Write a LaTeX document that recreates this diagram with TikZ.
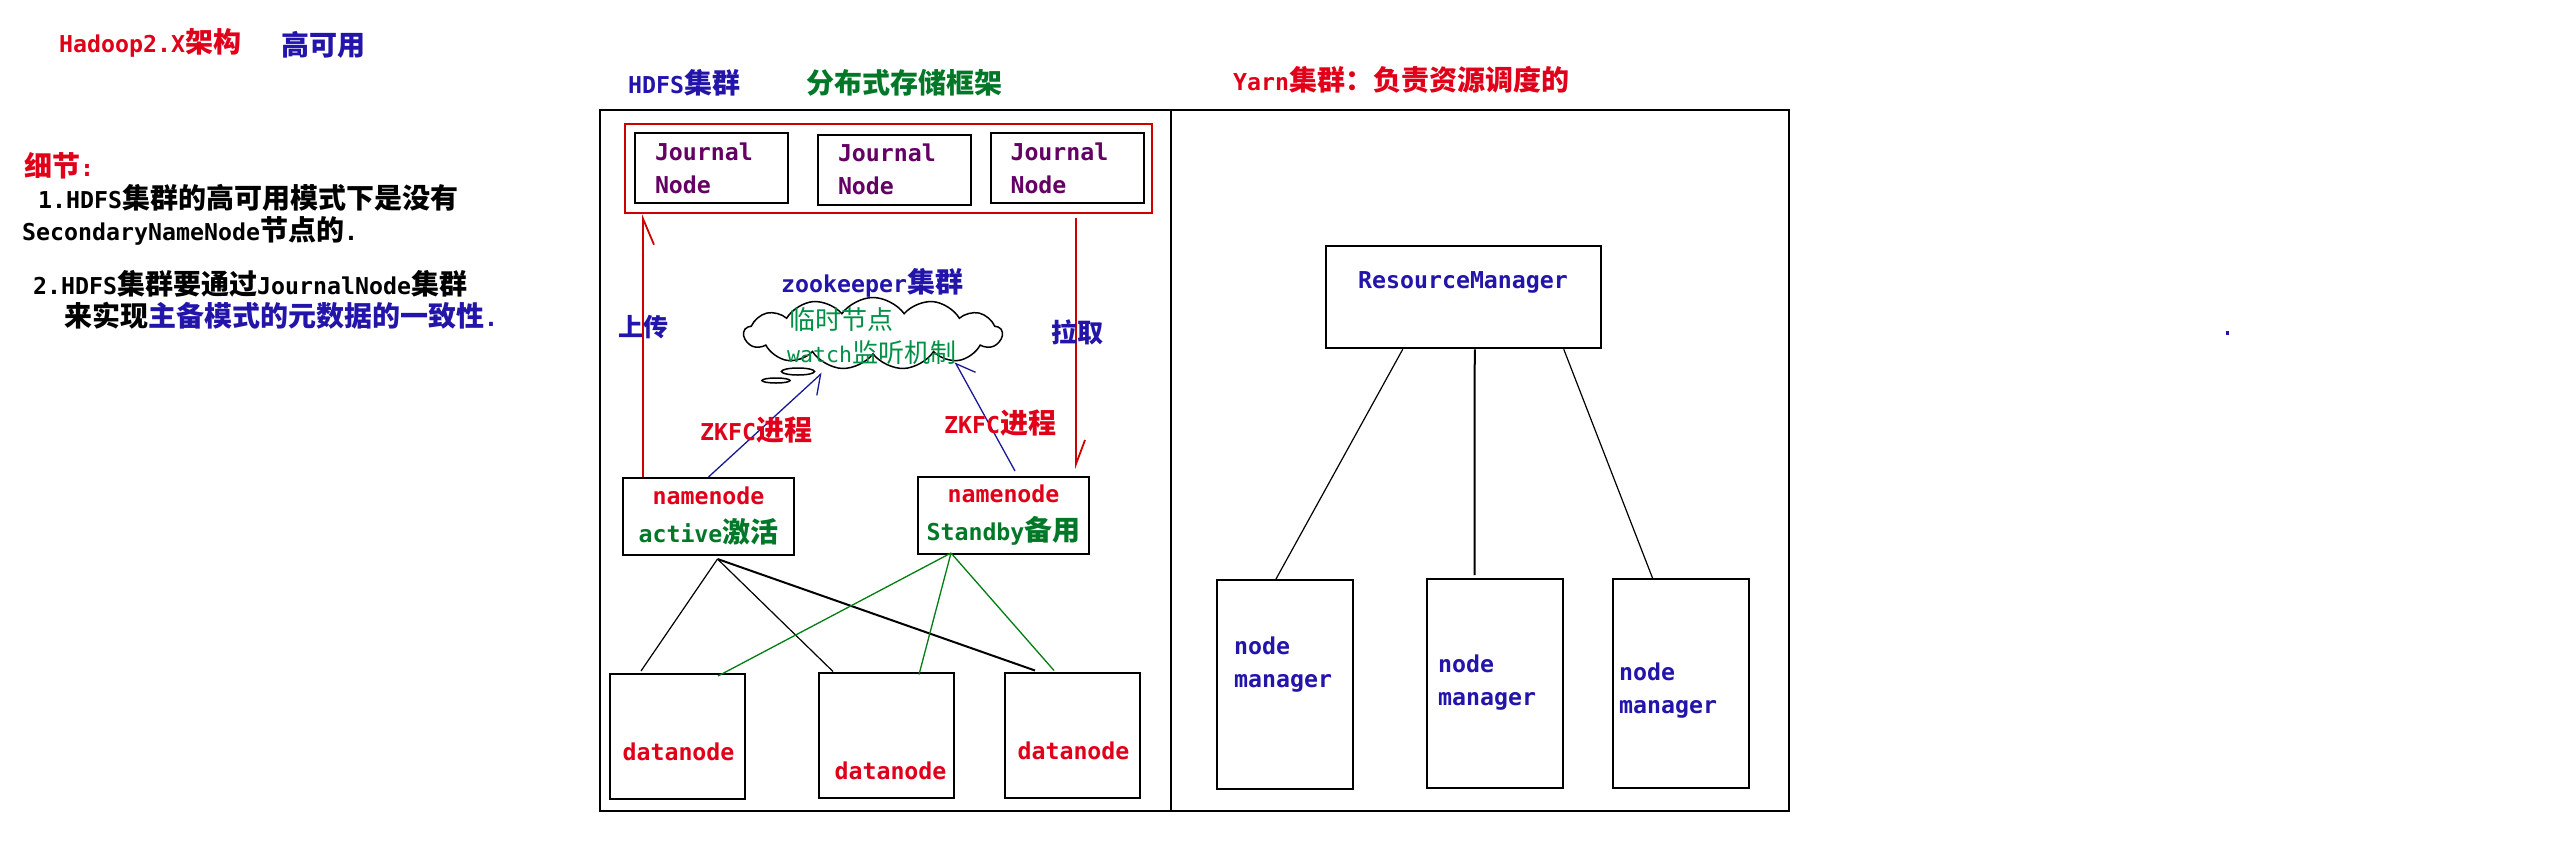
\documentclass[tikz,border=0pt]{standalone}
\usepackage{fontspec}
\setmainfont{DejaVu Sans Mono}[Scale=0.83]
\newfontfamily\cjk{Noto Sans CJK SC}
\usetikzlibrary{arrows.meta,shapes.symbols,calc}
\definecolor{tred}{RGB}{225,0,25}
\definecolor{lred}{RGB}{205,0,0}
\definecolor{tblue}{RGB}{35,20,170}
\definecolor{ablue}{RGB}{25,25,150}
\definecolor{tgreen}{RGB}{0,120,40}
\definecolor{cgreen}{RGB}{0,145,70}
\definecolor{lgreen}{RGB}{0,125,20}
\definecolor{jpurple}{RGB}{100,0,100}
\newcommand\zh[1]{{\cjk #1}}
\tikzset{
  txt/.style={font=\bfseries\fontsize{28}{33}\selectfont, inner sep=0pt},
  smtxt/.style={font=\fontsize{26}{30}\selectfont, inner sep=0pt},
  box/.style={draw, line width=2pt, inner sep=0pt},
  jbox/.style={box, minimum width=153pt, minimum height=70pt, text width=113pt,
    align=left, inner xsep=20pt, font=\bfseries\fontsize{28}{33}\selectfont, text=jpurple},
  nnbox/.style={box, minimum width=171pt, minimum height=77pt, align=center,
    font=\bfseries\fontsize{28}{38}\selectfont},
  dnbox/.style={box, minimum width=135pt, minimum height=125pt},
  nmbox/.style={box, minimum width=136pt, minimum height=209pt},
  redln/.style={draw=lred, line width=1.8pt},
  bluearr/.style={draw=ablue, line width=1.3pt, -{Straight Barb[harpoon,swap,length=17pt,width=26pt]}},
  thinblk/.style={draw=black, line width=1.2pt},
  thingrn/.style={draw=lgreen, line width=1.3pt},
}
\begin{document}
\begin{tikzpicture}[x=1pt,y=-1pt]
\fill[white] (0,0) rectangle (2560,847);
\useasboundingbox (0,0) rectangle (2560,847);

% titles and notes
\node[txt, anchor=west, text=tred] (t1) at (59,43) {Hadoop2.X\zh{架构}};
\node[txt, anchor=west, text=tblue] (t2) at (281,45) {\zh{高可用}};
\node[txt, anchor=west, text=tred] (n0) at (24,166) {\zh{细节}:};
\node[txt, anchor=west] (n1) at (38,198) {1.HDFS\zh{集群的高可用模式下是没有}};
\node[txt, anchor=west] (n2) at (22,231) {SecondaryNameNode\zh{节点的}.};
\node[txt, anchor=west] (n3) at (33,284) {2.HDFS\zh{集群要通过}JournalNode\zh{集群}};
\node[txt, anchor=west] (n4) at (64,316) {\zh{来实现}\textcolor{tblue}{\zh{主备模式的元数据的一致性}.}};

\node[txt, anchor=west, text=tblue] (hd) at (628,83) {HDFS\zh{集群}};
\node[txt, anchor=west, text=tgreen] (hd2) at (806,83) {\zh{分布式存储框架}};
\node[txt, anchor=west, text=tred] (yt) at (1233,80) {Yarn\zh{集群：负责资源调度的}};

% outer frame
\draw[line width=2.5pt] (600,110) rectangle (1789,811);
\coordinate (dvt) at (1171,110);
\coordinate (dvb) at (1171,811);
\draw[line width=1.5pt] (dvt) -- (dvb);

% journal nodes
\node[draw=lred, line width=2.5pt, minimum width=527pt, minimum height=89pt, inner sep=0pt] (rb) at (888.5,168.5) {};
\node[jbox] (jn1) at (711.5,168) {Journal\\Node};
\node[jbox] (jn2) at (894.5,169.5) {Journal\\Node};
\node[jbox] (jn3) at (1067,168) {Journal\\Node};

% namenodes
\node[nnbox] (nnA) at (708.5,516.5) {\textcolor{tred}{namenode}\\\textcolor{tgreen}{active\zh{激活}}};
\node[nnbox] (nnS) at (1003.5,515.5) {\textcolor{tred}{namenode}\\\textcolor{tgreen}{Standby\zh{备用}}};

% upload / pull lines
\coordinate (upx) at (643,0);
\coordinate (dnx) at (1076,0);
\draw[redln, -{Straight Barb[harpoon,swap,length=26pt,width=22pt]}] (nnA.north -| upx) -- (rb.south -| upx);
\draw[redln, -{Straight Barb[harpoon,length=24pt,width=18pt]}] ($(rb.south -| dnx)+(0,4)$) -- ($(nnS.north -| dnx)+(0,-7)$);
\node[txt, text=tblue, font=\bfseries\fontsize{25}{30}\selectfont] (up) at (643,327) {\zh{上传}};
\node[txt, text=tblue, font=\bfseries\fontsize{26}{30}\selectfont] (pl) at (1077,332) {\zh{拉取}};

% zookeeper cloud
\node[cloud, draw, line width=1.5pt, cloud puffs=13, cloud puff arc=110, aspect=3.6,
      minimum width=258pt, minimum height=72pt, inner sep=0pt] (zk) at (873,333.5) {};
\draw[line width=1.5pt] (798,371.5) ellipse [x radius=16.5pt, y radius=3.5pt];
\draw[line width=1.5pt] (776,380.5) ellipse [x radius=14pt, y radius=2.5pt];
\node[txt, anchor=west, text=tblue] (zkt) at (781,283) {zookeeper\zh{集群}};
\node[smtxt, anchor=west, text=cgreen] (zk1) at (789,320) {\zh{临时节点}};
\node[smtxt, anchor=west, text=cgreen] (zk2) at (787,353) {watch\zh{监听机制}};

\draw[bluearr] (nnA.north) -- ($(zk.center)+(-51,39.5)$);
\draw[bluearr] ($(nnS.north)+(11.5,-5)$) -- ($(zk.center)+(82,28.5)$);
\node[txt, anchor=west, text=tred] (zf1) at (700,430) {ZKFC\zh{进程}};
\node[txt, anchor=west, text=tred] (zf2) at (944,423) {ZKFC\zh{进程}};

% datanodes
\node[dnbox] (dn1) at (677.5,736.5) {};
\node[dnbox] (dn2) at (886.5,735) {};
\node[dnbox] (dn3) at (1072.5,735) {};
\node[txt, text=tred] (dn1t) at (678.5,752) {datanode};
\node[txt, text=tred] (dn2t) at (890.5,771) {datanode};
\node[txt, text=tred] (dn3t) at (1073.5,751) {datanode};

\draw[thinblk] ($(nnA.south)+(9,3)$) -- ($(dn1.north west)+(32,-2)$);
\draw[thinblk] ($(nnA.south)+(9,3)$) -- ($(dn2.north west)+(15,0)$);
\draw[thinblk, line width=2pt] ($(nnA.south)+(9,3)$) -- ($(dn3.north west)+(31,-1)$);
\draw[thingrn] ($(nnS.south west)+(34,-2)$) -- ($(dn1.north east)+(-28,3)$);
\draw[thingrn] ($(nnS.south west)+(34,-2)$) -- ($(dn2.north west)+(101,3)$);
\draw[thingrn] ($(nnS.south west)+(34,-2)$) -- ($(dn3.north west)+(50,-1)$);

% yarn
\node[box, line width=2.5pt, minimum width=275pt, minimum height=102pt] (rm) at (1463.5,297) {};
\node[txt, text=tblue] (rmt) at (1463,282) {ResourceManager};
\node[nmbox] (nm1) at (1285,684.5) {};
\node[nmbox] (nm2) at (1494.5,683.5) {};
\node[nmbox] (nm3) at (1680.5,683.5) {};
\node[txt, text=tblue, anchor=north west, align=left] (nm1t) at (1234,637) {node\\manager};
\node[txt, text=tblue, anchor=north west, align=left] (nm2t) at (1438,655) {node\\manager};
\node[txt, text=tblue, anchor=north west, align=left] (nm3t) at (1619,663) {node\\manager};
\draw[line width=1.2pt] ($(rm.south west)+(78,0)$) -- ($(nm1.north west)+(60,0)$);
\draw[line width=2pt] ($(rm.south west)+(150,0)$) -- ($(nm2.north west)+(49,-3)$);
\draw[line width=1.2pt] ($(rm.south west)+(239,0)$) -- ($(nm3.north west)+(41,0)$);

% stray dot
\fill[tblue] (2226,331) rectangle (2228.5,335);
\end{tikzpicture}
\end{document}
